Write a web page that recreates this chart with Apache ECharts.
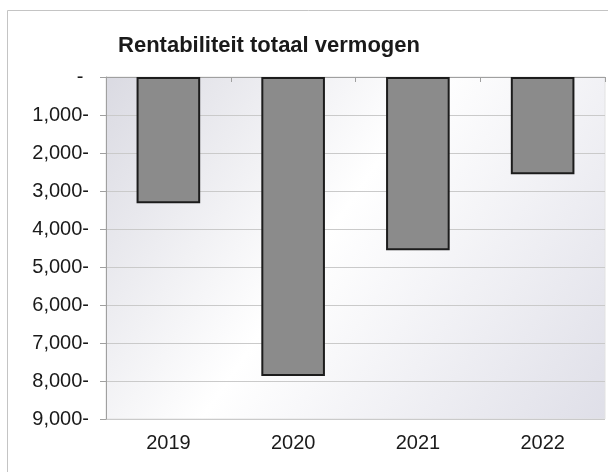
<!DOCTYPE html>
<html>
<head>
<meta charset="utf-8">
<script src="https://cdn.jsdelivr.net/npm/echarts@6/dist/echarts.min.js"></script>
<style>
  html, body { margin: 0; padding: 0; background: #ffffff; }
  #chart { width: 608px; height: 472px; }
</style>
</head>
<body>
<div id="chart"></div>
<script>
// Rentabiliteit totaal vermogen per jaar
const chartTitle = 'Rentabiliteit totaal vermogen';
const years = ['2019', '2020', '2021', '2022'];
const values = [3320, 7870, 4560, 2560];
const axisMin = 0;
const axisMax = 9000;
const axisStep = 1000;

function formatTick(v) {
  if (v === 0) return '- ';
  return v.toLocaleString('en-US') + '-';
}

const chart = echarts.init(document.getElementById('chart'), null, { renderer: 'canvas' });

const fontFamily = '"Liberation Sans", Arial, sans-serif';

chart.setOption({
  backgroundColor: '#ffffff',
  animation: false,
  title: {
    text: chartTitle,
    left: 264,
    textAlign: 'center',
    top: 30,
    textStyle: {
      fontFamily: fontFamily,
      fontSize: 22,
      fontWeight: 'bold',
      color: '#1a1a1a'
    }
  },
  graphic: [
    {
      type: 'rect',
      shape: { x: 7.5, y: 10.5, width: 700, height: 600 },
      style: { fill: null, stroke: '#c4c4c4', lineWidth: 1 },
      silent: true,
      z: -10
    }
  ],
  grid: {
    left: 106,
    top: 77,
    right: 3,
    bottom: 53,
    show: true,
    borderColor: '#e2e2e2',
    borderWidth: 1,
    backgroundColor: new echarts.graphic.LinearGradient(0, 0, 1, 1, [
      { offset: 0, color: '#dadae2' },
      { offset: 0.45, color: '#ffffff' },
      { offset: 1, color: '#dfdfe8' }
    ])
  },
  xAxis: [
    {
      type: 'category',
      data: years,
      position: 'bottom',
      axisLine: { show: true, lineStyle: { color: '#a0a0a0', width: 1 } },
      axisTick: { show: false },
      axisLabel: {
        margin: 14,
        fontFamily: fontFamily,
        fontSize: 20,
        color: '#1a1a1a'
      },
      splitLine: { show: false }
    },
    {
      type: 'category',
      data: years,
      position: 'top',
      axisLine: { show: true, lineStyle: { color: '#a0a0a0', width: 1 } },
      axisTick: { show: true, inside: true, length: 5, lineStyle: { color: '#a0a0a0' } },
      axisLabel: { show: false },
      splitLine: { show: false }
    }
  ],
  yAxis: {
    type: 'value',
    inverse: true,
    min: axisMin,
    max: axisMax,
    interval: axisStep,
    axisLine: { show: true, lineStyle: { color: '#a0a0a0', width: 1 } },
    axisTick: { show: true, length: 6, lineStyle: { color: '#a0a0a0' } },
    axisLabel: {
      margin: 17,
      fontFamily: fontFamily,
      fontSize: 20,
      color: '#1a1a1a',
      formatter: formatTick
    },
    splitLine: { show: true, lineStyle: { color: '#cacaca', width: 1 } }
  },
  series: [
    {
      type: 'bar',
      xAxisIndex: 0,
      data: values,
      barWidth: '51%',
      itemStyle: {
        color: '#8b8b8b',
        borderColor: '#1c1c1c',
        borderWidth: 2
      }
    }
  ]
});
</script>
</body>
</html>
